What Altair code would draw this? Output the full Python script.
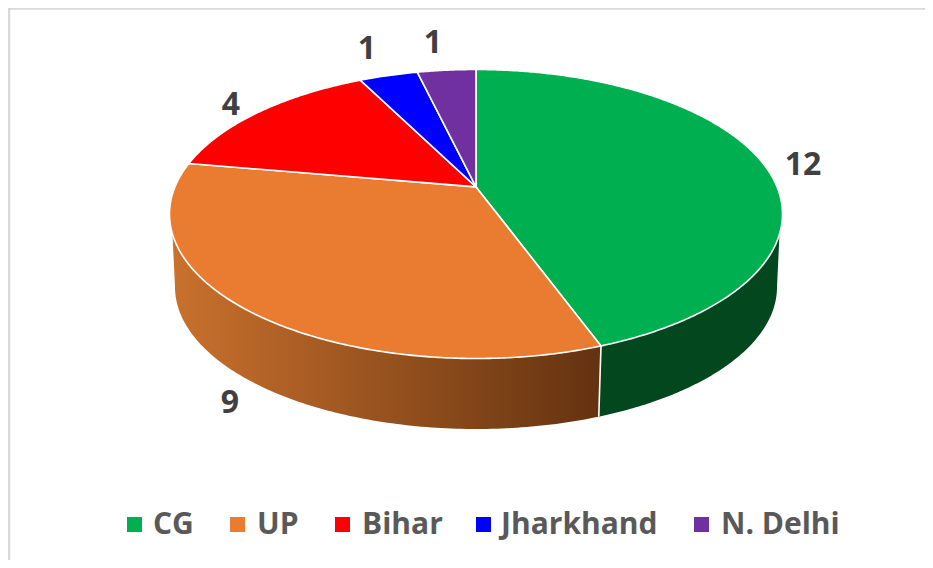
import numpy as np
import pandas as pd
import altair as alt

categories = ["CG", "UP", "Bihar", "Jharkhand", "N. Delhi"]
values = [12, 9, 4, 1, 1]
colors = ["#00b050", "#e97c30", "#ff0000", "#0000ff", "#7030a0"]

W, H = 917, 552
X0, Y0 = 8, 8

# pie geometry (page pixels)
CX, CY, RX, RY = 476.0, 214.0, 306.5, 144.5
LOW_CY, LOW_RX, LOW_RY = 287.0, 301.0, 142.0
APEX_SHIFT = -0.1875


def project(theta, cy=CY, rx=RX, ry=RY):
    u, v = np.sin(theta), -np.cos(theta)
    c = APEX_SHIFT
    w = 1 + c * v
    return CX + rx * u * np.sqrt(1 - c * c) / w, cy + ry * (v + c) / w


def ellipse(t, cy=CY, rx=RX, ry=RY):
    return CX + rx * np.cos(t), cy + ry * np.sin(t)


apex = (CX, CY + RY * APEX_SHIFT)
total = sum(values)
edges = np.cumsum([0] + values) / total * 2 * np.pi

xs = alt.Scale(domain=[X0, X0 + W], nice=False, zero=False)
ys = alt.Scale(domain=[Y0 + H, Y0], nice=False, zero=False)


def path_chart(px, py, **mark):
    df = pd.DataFrame({"x": px, "y": py, "i": np.arange(len(px))})
    return alt.Chart(df).mark_line(**mark).encode(
        x=alt.X("x:Q", scale=xs, axis=None),
        y=alt.Y("y:Q", scale=ys, axis=None),
        order=alt.Order("i:Q"),
    )


layers = []

# frame
layers.append(path_chart([9, 9, 925], [560, 8.5, 8.5], stroke="#d9d9d9", strokeWidth=2.4))

# side walls
bx, by = project(edges[1])
tb = np.arctan2((by - CY) / RY, (bx - CX) / RX)
T_LEFT, T_RIGHT = np.radians(172.0), np.radians(8.0)

t_up = np.linspace(T_LEFT, tb, 120)
t_dn = np.linspace(tb, np.pi, 120)
ux, uy = ellipse(t_up)
dx, dy = ellipse(t_dn, LOW_CY, LOW_RX, LOW_RY)
layers.append(path_chart(
    np.r_[ux, dx, ux[0]], np.r_[uy, dy, uy[0]],
    stroke="white", strokeWidth=0,
    fill=alt.LinearGradient(gradient="linear", x1=0, x2=1, y1=0, y2=0,
                      stops=[alt.GradientStop(color="#c9712d", offset=0),
                             alt.GradientStop(color="#643210", offset=1)]),
))

t_up = np.linspace(tb, T_RIGHT, 100)
t_dn = np.linspace(0, tb, 100)
ux, uy = ellipse(t_up)
dx, dy = ellipse(t_dn, LOW_CY, LOW_RX, LOW_RY)
layers.append(path_chart(
    np.r_[ux, dx, ux[0]], np.r_[uy, dy, uy[0]],
    stroke="white", strokeWidth=0, fill="#03471f",
))

# wall separator
lx, ly = project(edges[1], LOW_CY, LOW_RX, LOW_RY)
layers.append(path_chart([bx, lx], [by, ly], stroke="white", strokeWidth=1.6))

# top face
for k, col in enumerate(colors):
    th = np.linspace(edges[k], edges[k + 1], max(20, values[k] * 30))
    px, py = project(th)
    layers.append(path_chart(
        np.r_[apex[0], px, apex[0]], np.r_[apex[1], py, apex[1]],
        fill=col, stroke="white", strokeWidth=1.6, strokeJoin="round",
    ))

# data labels
label_x = [803, 230, 231, 367, 433]
label_y = [175, 413, 115, 59, 53]
lab = pd.DataFrame({"x": label_x, "y": label_y, "t": [str(v) for v in values]})
layers.append(alt.Chart(lab).mark_text(
    font="Open Sans", fontSize=32, fontWeight=700, color="#404040",
    align="center", baseline="alphabetic",
).encode(x=alt.X("x:Q", scale=xs, axis=None), y=alt.Y("y:Q", scale=ys, axis=None), text="t:N"))

# legend
sq_x = [134.5, 237.5, 342.5, 483.5, 701.5]
tx_x = [153, 257, 362, 501, 721]
leg = pd.DataFrame({"sq": sq_x, "tx": tx_x, "name": categories, "col": colors, "y": [524.5] * 5, "yt": [534] * 5})
layers.append(alt.Chart(leg).mark_square(size=225, opacity=1, filled=True).encode(
    x=alt.X("sq:Q", scale=xs, axis=None), y=alt.Y("y:Q", scale=ys, axis=None),
    color=alt.Color("col:N", scale=None, legend=None),
))
layers.append(alt.Chart(leg).mark_text(
    font="Open Sans", fontSize=30, fontWeight=700, color="#595959",
    align="left", baseline="alphabetic",
).encode(x=alt.X("tx:Q", scale=xs, axis=None), y=alt.Y("yt:Q", scale=ys, axis=None), text="name:N"))

chart = alt.layer(*layers).properties(
    width=W, height=H, padding=0, background="white",
    autosize=alt.AutoSizeParams(type="none"),
).configure_view(stroke=None)

chart.save("out.html", embed_options={"renderer": "svg", "actions": False})
